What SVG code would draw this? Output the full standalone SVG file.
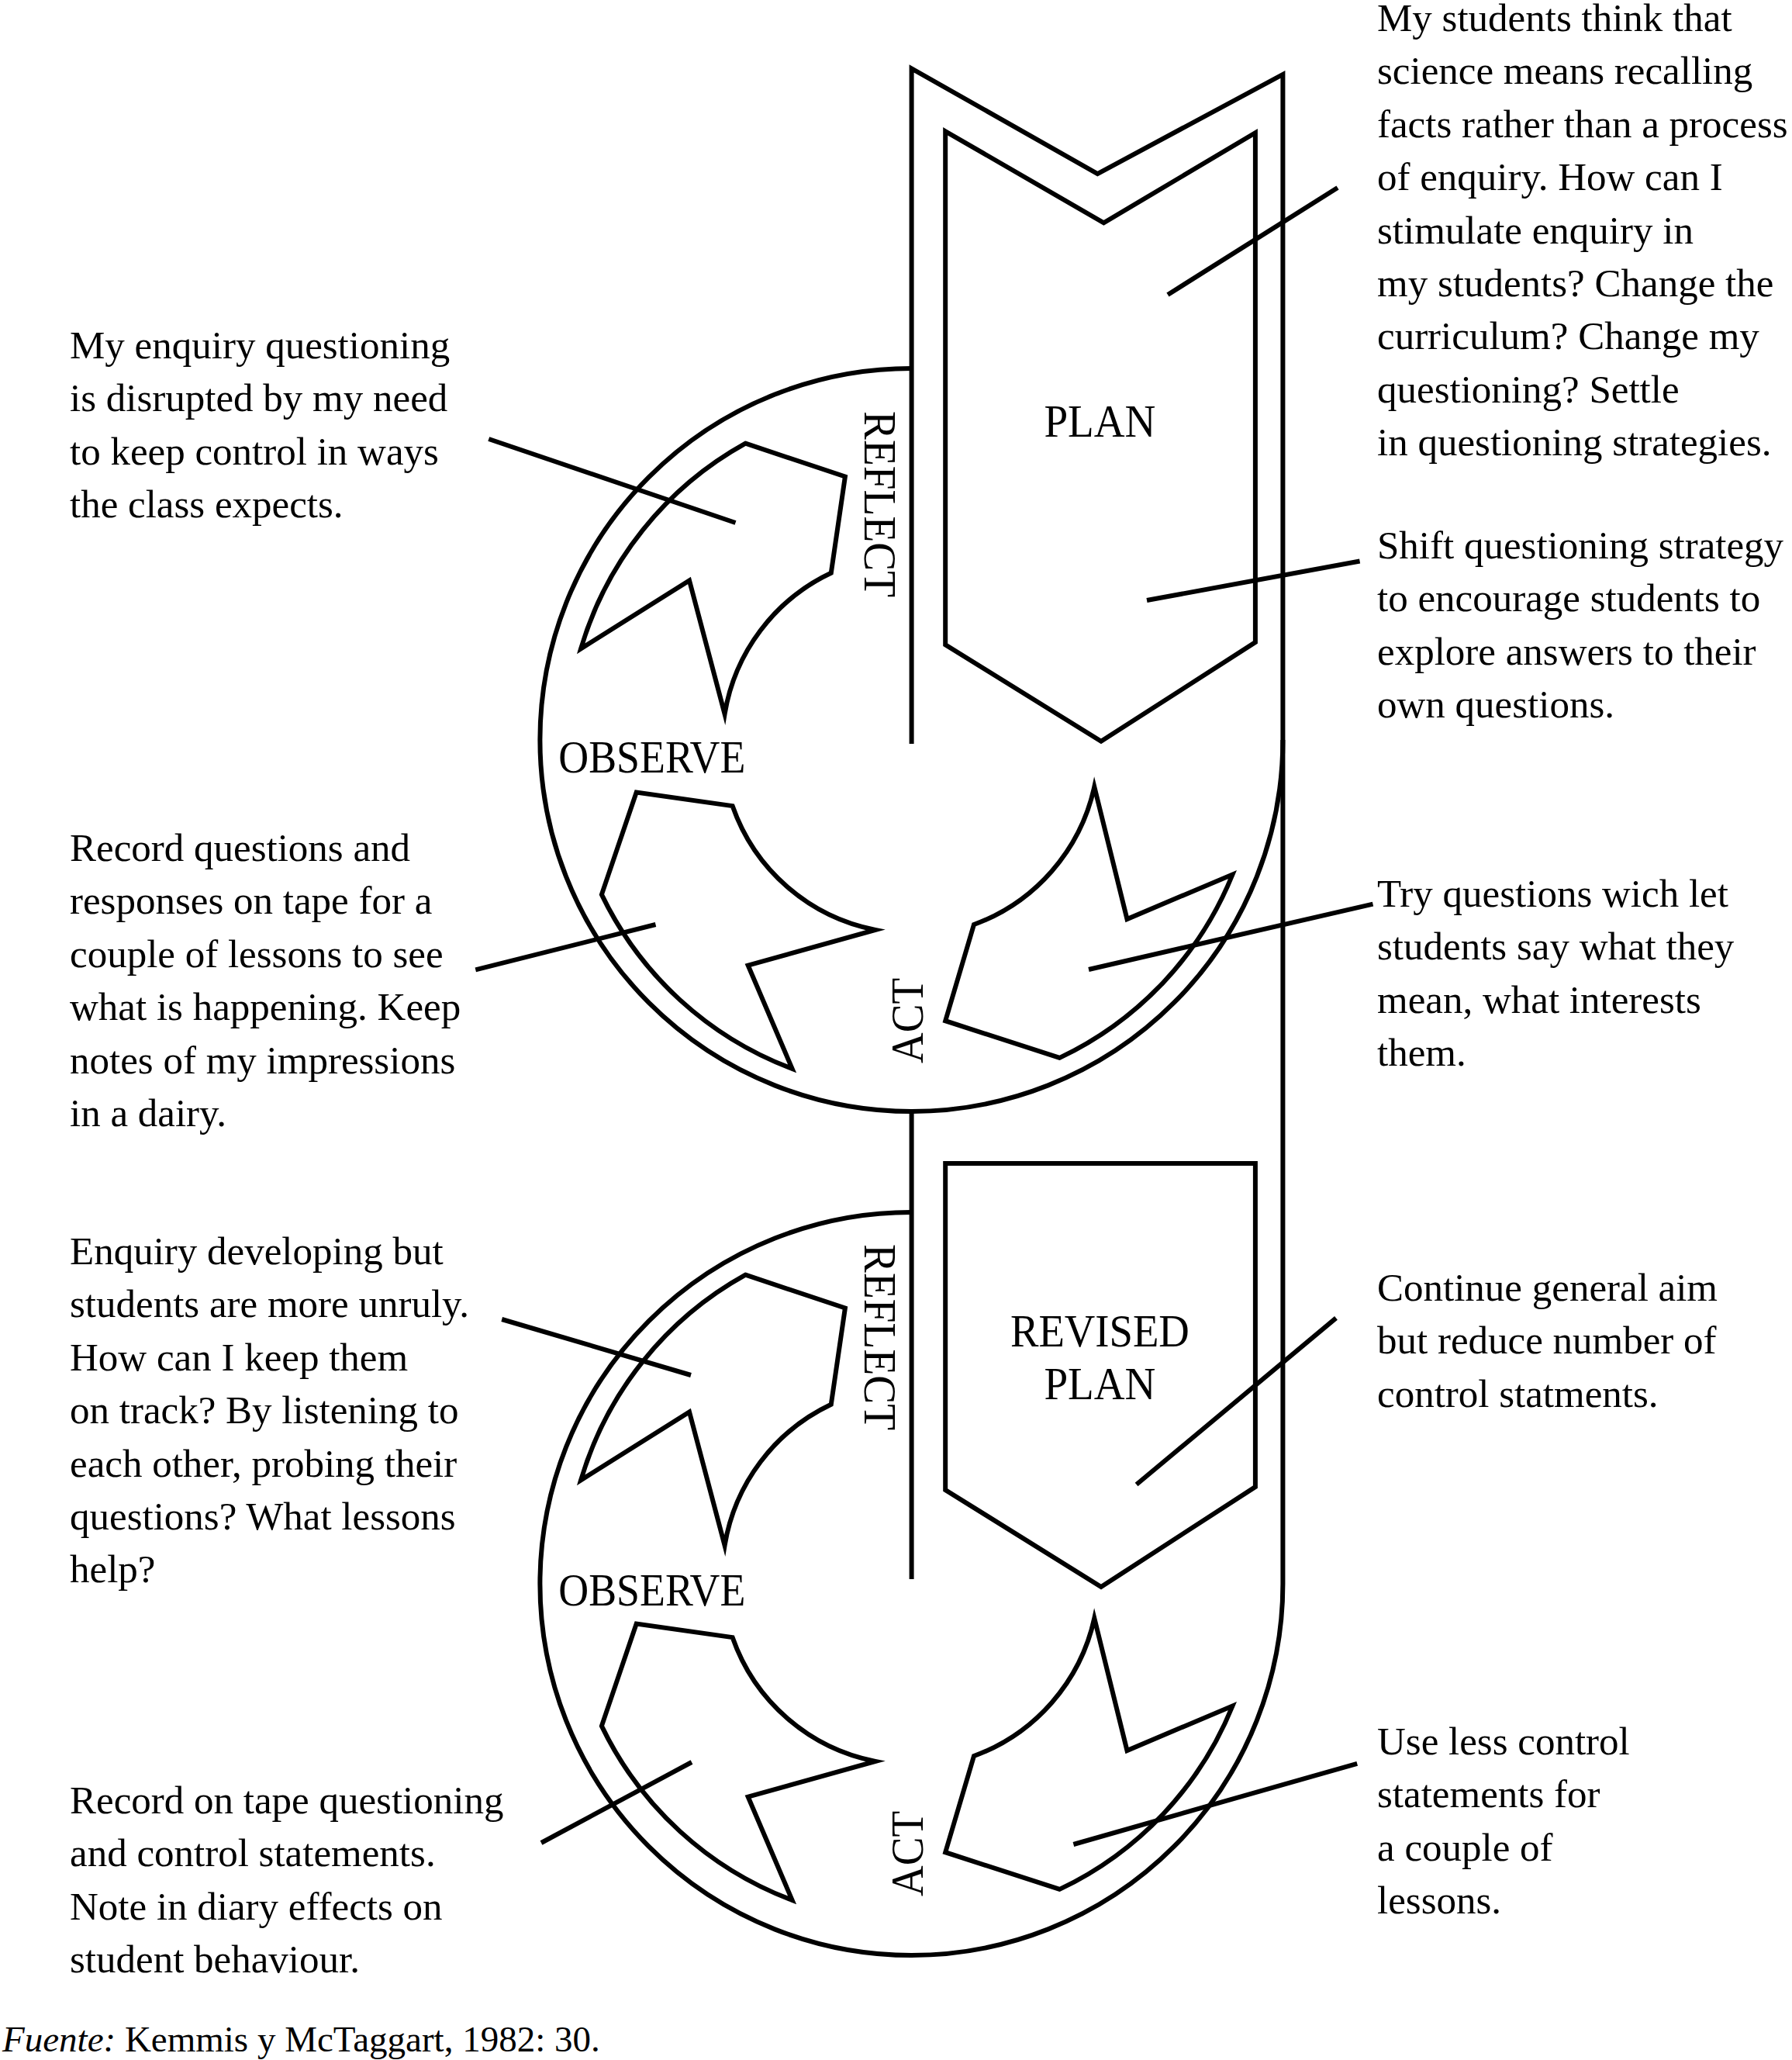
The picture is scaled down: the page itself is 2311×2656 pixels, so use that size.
<svg xmlns="http://www.w3.org/2000/svg" xmlns:xlink="http://www.w3.org/1999/xlink" width="2311" height="2656" viewBox="0 0 2311 2656">
<style>
.s{fill:none;stroke:#000;stroke-width:6;stroke-linejoin:miter;stroke-miterlimit:10}
.ld{fill:none;stroke:#000;stroke-width:6}
.t{font-family:"Liberation Serif","Times New Roman",serif;font-size:51px;fill:#000}
.lb{font-family:"Liberation Serif","Times New Roman",serif;font-size:60px;fill:#000}
</style>
<defs>
<g id="arrows">
<path class="s" d="M961.4,571.7 L1089.9,614.5 L1071.8,738.8 A245,245 0 0 0 934.6,920.6 L889,748.4 L749.1,836.4 A447,447 0 0 1 961.4,571.7 Z"/>
<path class="s" d="M775.9,1153.4 L820.7,1021.6 L944.6,1039.1 A245,245 0 0 0 1128.8,1199 L964.7,1244.6 L1021.6,1377.9 A447,447 0 0 1 775.9,1153.4 Z"/>
<path class="s" d="M1366.5,1363.9 L1219.2,1316.2 L1256,1192 A245,245 0 0 0 1411.3,1014.5 L1453.5,1185 L1589.5,1127.5 A447,447 0 0 1 1366.5,1363.9 Z"/>
</g>
</defs>
<rect x="0" y="0" width="2311" height="2656" fill="#fff"/>

<g id="frame">
<path class="s" d="M1175.6,959 L1175.6,88.3 L1415.4,224.1 L1654.4,95.9 L1654.4,2042 A479,479 0 1 1 1175.6,1563"/>
<path class="s" d="M1175.6,475 A479,479 0 1 0 1654.4,954"/>
<path class="s" d="M1175.6,1433 L1175.6,2036"/>
</g>

<g id="plan">
<path class="s" d="M1219.2,169.3 L1423.4,287.3 L1618.9,171.2 L1618.9,828.1 L1420,955.7 L1219.2,831.3 Z"/>
<text class="lb" x="1418.4" y="563.4" text-anchor="middle" textLength="144" lengthAdjust="spacingAndGlyphs">PLAN</text>
</g>

<g id="revised-plan">
<path class="s" d="M1219.2,1500 L1618.9,1500 L1618.9,1917 L1420,2046 L1219.2,1921 Z"/>
<text class="lb" x="1418.4" y="1735.7" text-anchor="middle" textLength="231" lengthAdjust="spacingAndGlyphs">REVISED</text>
<text class="lb" x="1418.4" y="1804.4" text-anchor="middle" textLength="144" lengthAdjust="spacingAndGlyphs">PLAN</text>
</g>

<g id="cycle1">
<use xlink:href="#arrows"/>
<text class="lb" transform="translate(1115,530) rotate(90)" x="0" y="0" textLength="240" lengthAdjust="spacingAndGlyphs">REFLECT</text>
<text class="lb" x="720.3" y="996" textLength="241" lengthAdjust="spacingAndGlyphs">OBSERVE</text>
<text class="lb" transform="translate(1190,1371) rotate(-90)" x="0" y="0" textLength="110" lengthAdjust="spacingAndGlyphs">ACT</text>
</g>

<g id="cycle2">
<use xlink:href="#arrows" transform="translate(0,1072)"/>
<text class="lb" transform="translate(1115,1604) rotate(90)" x="0" y="0" textLength="240" lengthAdjust="spacingAndGlyphs">REFLECT</text>
<text class="lb" x="720.3" y="2070" textLength="241" lengthAdjust="spacingAndGlyphs">OBSERVE</text>
<text class="lb" transform="translate(1190,2445) rotate(-90)" x="0" y="0" textLength="110" lengthAdjust="spacingAndGlyphs">ACT</text>
</g>

<g id="connectors">
<line class="ld" x1="1725" y1="242" x2="1506" y2="380"/>
<line class="ld" x1="1753.6" y1="723.5" x2="1479" y2="774"/>
<line class="ld" x1="630.3" y1="566" x2="948.5" y2="674"/>
<line class="ld" x1="613.3" y1="1250.4" x2="845.5" y2="1192"/>
<line class="ld" x1="1770.5" y1="1165.6" x2="1404" y2="1250"/>
<line class="ld" x1="647.2" y1="1701" x2="891" y2="1773"/>
<line class="ld" x1="1723" y1="1699.4" x2="1465.6" y2="1914"/>
<line class="ld" x1="698" y1="2376" x2="892" y2="2272"/>
<line class="ld" x1="1750.2" y1="2273.8" x2="1384.4" y2="2378"/>
</g>

<g id="note-plan">
<text class="t" x="1776" y="40">
<tspan x="1776" dy="0">My students think that</tspan>
<tspan x="1776" dy="68.4">science means recalling</tspan>
<tspan x="1776" dy="68.4">facts rather than a process</tspan>
<tspan x="1776" dy="68.4">of enquiry. How can I</tspan>
<tspan x="1776" dy="68.4">stimulate enquiry in</tspan>
<tspan x="1776" dy="68.4">my students? Change the</tspan>
<tspan x="1776" dy="68.4">curriculum? Change my</tspan>
<tspan x="1776" dy="68.4">questioning? Settle</tspan>
<tspan x="1776" dy="68.4">in questioning strategies.</tspan>
</text>
</g>

<g id="note-shift">
<text class="t" x="1776" y="720">
<tspan x="1776" dy="0">Shift questioning strategy</tspan>
<tspan x="1776" dy="68.4">to encourage students to</tspan>
<tspan x="1776" dy="68.4">explore answers to their</tspan>
<tspan x="1776" dy="68.4">own questions.</tspan>
</text>
</g>

<g id="note-try">
<text class="t" x="1776" y="1169">
<tspan x="1776" dy="0">Try questions wich let</tspan>
<tspan x="1776" dy="68.4">students say what they</tspan>
<tspan x="1776" dy="68.4">mean, what interests</tspan>
<tspan x="1776" dy="68.4">them.</tspan>
</text>
</g>

<g id="note-continue">
<text class="t" x="1776" y="1677">
<tspan x="1776" dy="0">Continue general aim</tspan>
<tspan x="1776" dy="68.4">but reduce number of</tspan>
<tspan x="1776" dy="68.4">control statments.</tspan>
</text>
</g>

<g id="note-use">
<text class="t" x="1776" y="2262">
<tspan x="1776" dy="0">Use less control</tspan>
<tspan x="1776" dy="68.4">statements for</tspan>
<tspan x="1776" dy="68.4">a couple of</tspan>
<tspan x="1776" dy="68.4">lessons.</tspan>
</text>
</g>

<g id="note-disrupted">
<text class="t" x="90" y="462">
<tspan x="90" dy="0">My enquiry questioning</tspan>
<tspan x="90" dy="68.4">is disrupted by my need</tspan>
<tspan x="90" dy="68.4">to keep control in ways</tspan>
<tspan x="90" dy="68.4">the class expects.</tspan>
</text>
</g>

<g id="note-record1">
<text class="t" x="90" y="1110">
<tspan x="90" dy="0">Record questions and</tspan>
<tspan x="90" dy="68.4">responses on tape for a</tspan>
<tspan x="90" dy="68.4">couple of lessons to see</tspan>
<tspan x="90" dy="68.4">what is happening. Keep</tspan>
<tspan x="90" dy="68.4">notes of my impressions</tspan>
<tspan x="90" dy="68.4">in a dairy.</tspan>
</text>
</g>

<g id="note-enquiry">
<text class="t" x="90" y="1630">
<tspan x="90" dy="0">Enquiry developing but</tspan>
<tspan x="90" dy="68.4">students are more unruly.</tspan>
<tspan x="90" dy="68.4">How can I keep them</tspan>
<tspan x="90" dy="68.4">on track? By listening to</tspan>
<tspan x="90" dy="68.4">each other, probing their</tspan>
<tspan x="90" dy="68.4">questions? What lessons</tspan>
<tspan x="90" dy="68.4">help?</tspan>
</text>
</g>

<g id="note-record2">
<text class="t" x="90" y="2338">
<tspan x="90" dy="0">Record on tape questioning</tspan>
<tspan x="90" dy="68.4">and control statements.</tspan>
<tspan x="90" dy="68.4">Note in diary effects on</tspan>
<tspan x="90" dy="68.4">student behaviour.</tspan>
</text>
</g>

<g id="source">
<text class="t" x="3" y="2645" style="font-size:47px"><tspan font-style="italic">Fuente:</tspan> Kemmis y McTaggart, 1982: 30.</text>
</g>
</svg>
